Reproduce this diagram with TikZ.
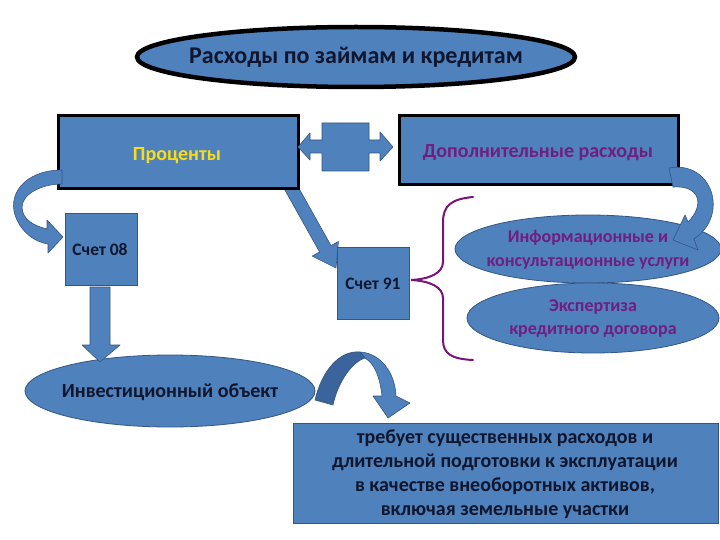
\documentclass[tikz,border=0pt]{standalone}
\usepackage{fontspec}
\setmainfont{Carlito}
\usetikzlibrary{shapes.geometric}
\definecolor{fillblue}{RGB}{79,129,189}
\definecolor{darkfill}{RGB}{58,100,155}
\definecolor{edgeblue}{RGB}{52,86,130}
\definecolor{txtpurple}{RGB}{112,30,128}
\definecolor{bracepurple}{RGB}{120,20,120}
\definecolor{txtyellow}{RGB}{250,220,20}
\definecolor{txtnavy}{RGB}{15,22,45}
\tikzset{
  blockarrow/.style={fill=fillblue, draw=edgeblue, line width=0.6pt, line join=round},
  heavybox/.style={rectangle, fill=fillblue, draw=black, line width=3pt, inner sep=0pt},
  plainbox/.style={rectangle, fill=fillblue, draw=edgeblue, line width=0.8pt, inner sep=0pt},
  blueoval/.style={ellipse, fill=fillblue, draw=edgeblue, line width=0.8pt, inner sep=0pt},
  label20/.style={inner sep=0pt, align=center, font=\bfseries\fontsize{20}{24}\selectfont},
}
\begin{document}
\begin{tikzpicture}[x=1pt,y=-1pt,font=\bfseries]
\useasboundingbox (0,0) rectangle (720,540);
\clip (0,0) rectangle (720,540);
\fill[white] (0,0) rectangle (720,540);

% title
\node[ellipse, fill=fillblue, draw=black, line width=4.5pt, minimum width=438pt, minimum height=60pt, inner sep=0pt] (title) at (356,57) {};
\node[text=txtnavy, inner sep=0pt, font=\bfseries\fontsize{24}{28}\selectfont] (titletext) at (356,57) {Расходы по займам и кредитам};

% diagonal arrow (under box)
\draw[blockarrow] (294.7,180.8) -- (331,245.6) -- (338.4,241.5) -- (336,268) -- (312.2,256.1) -- (319.6,252) -- (283.3,187.2) -- cycle;

% top boxes
\node[heavybox, minimum width=240pt, minimum height=73pt] (proc) at (178,152.5) {};
\node[label20, text=txtyellow] (proctext) at (177,156) {Проценты};
\node[heavybox, minimum width=279pt, minimum height=69pt] (dop) at (538.5,150.5) {};
\node[label20, text=txtpurple] (doptext) at (538,153) {Дополнительные расходы};

% double arrow
\draw[blockarrow] (298,147) -- (310,133) -- (310,140) -- (322,140) -- (322,123) -- (369,123) -- (369,140) -- (380,140) -- (380,132)
  -- (393,147) -- (380,161) -- (380,153) -- (369,153) -- (369,171) -- (322,171) -- (322,153) -- (310,153) -- (310,160) -- cycle;

% curved arrow Проценты -> Счет 08
\draw[blockarrow] (62,170) .. controls (25,170) and (5,195) .. (17,220) .. controls (23,233) and (35,242) .. (48,244)
  -- (48,253) -- (63,237) -- (47,220) -- (47,229) .. controls (35,226) and (22,220) .. (22,207)
  .. controls (22,195) and (40,184) .. (62,184) -- cycle;

% Счет boxes
\node[plainbox, minimum width=72pt, minimum height=72pt] (s08) at (101,249) {};
\node[text=txtnavy, inner sep=0pt, font=\bfseries\fontsize{17.5}{21}\selectfont] (s08text) at (100,250) {Счет 08};
\node[plainbox, minimum width=72pt, minimum height=72pt] (s91) at (373,283) {};
\node[text=txtnavy, inner sep=0pt, font=\bfseries\fontsize{17.5}{21}\selectfont] (s91text) at (373,284) {Счет 91};

% right ellipses
\node[blueoval, minimum width=266pt, minimum height=68pt] (info) at (588,249) {};
\node[text=txtpurple, inner sep=0pt, align=center, font=\bfseries\fontsize{18}{24}\selectfont] (infotext) at (588,250) {Информационные и\\консультационные услуги};
\node[blueoval, minimum width=252pt, minimum height=70pt] (exp) at (593,318) {};
\node[text=txtpurple, inner sep=0pt, align=center, font=\bfseries\fontsize{18}{23}\selectfont] (exptext) at (593,319) {Экспертиза\\кредитного договора};

% curved arrow Доп -> info
\draw[blockarrow] (669,168) .. controls (712,160) and (730,215) .. (694,239) -- (698,250) -- (673,240) -- (685,215) -- (688,222)
  .. controls (705,205) and (700,185) .. (673,187) -- cycle;

% brace
\draw[bracepurple, line width=2pt, line cap=round] (473,197) .. controls (452,199) and (443,205) .. (443,222) -- (443,262)
  .. controls (443,273) and (430,279) .. (411,280) .. controls (430,281) and (443,287) .. (443,298) -- (443,340)
  .. controls (443,354) and (452,359) .. (473,360);

% investment ellipse
\node[blueoval, minimum width=290pt, minimum height=72pt] (inv) at (170,391) {};
\node[label20, text=txtnavy] (invtext) at (170,392) {Инвестиционный объект};

% down arrow
\draw[blockarrow] (90,287) -- (110,287) -- (110,345) -- (120,345) -- (100,362) -- (82,345) -- (90,345) -- cycle;

% curved arrow inv -> bottom box
\draw[blockarrow] (360,352) .. controls (380,353) and (395,372) .. (396,396) -- (410,403) -- (388,418) -- (373,396) -- (382,396)
  .. controls (380,378) and (375,364) .. (365,358) -- cycle;
\draw[blockarrow, fill=darkfill] (315,400) .. controls (322,370) and (340,350) .. (360,352) -- (365,358)
  .. controls (352,362) and (338,382) .. (333,405) -- cycle;

% bottom box
\node[plainbox, minimum width=425pt, minimum height=100pt] (req) at (505.5,473) {};
\node[label20, text=txtnavy] (reqtext) at (505,474)
  {требует существенных расходов и\\длительной подготовки к эксплуатации\\в качестве внеоборотных активов,\\включая земельные участки};
\end{tikzpicture}
\end{document}
